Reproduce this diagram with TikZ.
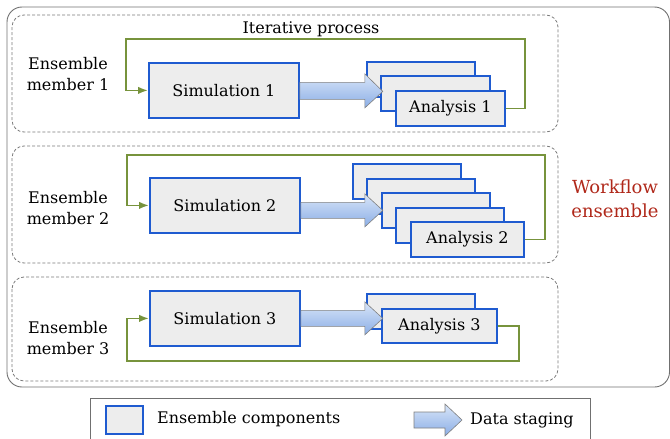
\documentclass[tikz,border=0pt]{standalone}
\usepackage{fontspec}
\setmainfont{DejaVu Serif}
\usetikzlibrary{shadows,arrows.meta}
\definecolor{boxblue}{HTML}{1F5BD0}
\definecolor{boxfill}{HTML}{EDEDED}
\definecolor{loopgreen}{HTML}{77933C}
\definecolor{wfred}{HTML}{B0281A}
\definecolor{framegray}{HTML}{707070}
\definecolor{dashgray}{HTML}{7A7A7A}
\definecolor{arrowtop}{HTML}{D8E5F8}
\definecolor{arrowbot}{HTML}{8BAEE6}
\begin{document}
\begin{tikzpicture}[x=1pt,y=-1pt,
  comp/.style={draw=boxblue, line width=1.8pt, fill=boxfill, inner sep=0pt,
    anchor=north west, font=\fontsize{16}{19}\selectfont,
    drop shadow={shadow xshift=1.2pt, shadow yshift=-1.5pt, opacity=0.3}},
  simbox/.style={comp, minimum width=150pt, minimum height=55pt},
  anabox/.style={comp, minimum width=108pt, minimum height=35pt},
  loopline/.style={draw=loopgreen, line width=1.7pt, -{Latex[length=10pt,width=7.5pt]}},
  dashbox/.style={draw=dashgray, line width=0.8pt, dash pattern=on 3pt off 2pt, rounded corners=12pt},
  lbl/.style={align=center, font=\fontsize{16}{21}\selectfont},
  stagearrow/.style={draw=gray, line width=0.6pt, top color=arrowtop, bottom color=arrowbot}
]
\useasboundingbox (0,0) rectangle (670,439);
% outer frame
\draw[framegray, line width=0.9pt, rounded corners=15pt] (7,7) rectangle (669.5,387);
% member frames
\draw[dashbox] (12,15) rectangle (558,132);
\draw[dashbox] (12,146) rectangle (558,263);
\draw[dashbox] (12,277) rectangle (558,381);

% labels
\node[lbl] (it) at (311,29) {Iterative process};
\node[lbl] (em1) at (68,74) {Ensemble\\member 1};
\node[lbl] (em2) at (68,208) {Ensemble\\member 2};
\node[lbl] (em3) at (68,338) {Ensemble\\member 3};
\node[align=center, text=wfred, font=\fontsize{18}{24}\selectfont] (wf) at (615,199) {Workflow\\ensemble};

% member 1
\node[simbox] (sim1) at (148,62) {Simulation 1};
\node[anabox] (a1a) at (366,61) {};
\node[anabox, minimum width=109pt] (a1b) at (380,75) {};
\node[anabox, minimum width=109pt] (ana1) at (395,90) {Analysis 1};
\coordinate (r1) at (525,39);
\coordinate (l1) at (126,39);
\draw[loopline] (ana1.east) -| (r1) -- (l1) |- (sim1.west);
\draw[stagearrow, shift={(sim1.east)}] (0,-8) -- (65,-8) -- (65,-16.5) -- (83,1) -- (65,17.5) -- (65,9) -- (0,9) -- cycle;

% member 2
\node[simbox] (sim2) at (149,177) {Simulation 2};
\node[anabox] (a2a) at (352,163) {};
\node[anabox] (a2b) at (366,178) {};
\node[anabox] (a2c) at (381,192) {};
\node[anabox] (a2d) at (395,207) {};
\node[anabox, minimum width=113pt] (ana2) at (410,221) {Analysis 2};
\coordinate (r2) at (545,155);
\coordinate (l2) at (127,155);
\draw[loopline] (ana2.east) -| (r2) -- (l2) |- (sim2.west);
\draw[stagearrow, shift={(sim2.east)}] (0,-3) -- (64,-3) -- (64,-11.5) -- (82,5) -- (64,21.5) -- (64,13) -- (0,13) -- cycle;

% member 3
\node[simbox] (sim3) at (149,290) {Simulation 3};
\node[anabox] (a3a) at (366,293) {};
\node[anabox, minimum width=115pt, minimum height=34pt] (ana3) at (381,308) {Analysis 3};
\coordinate (r3) at (519,361);
\coordinate (l3) at (127,361);
\draw[loopline] (ana3.east) -| (r3) -- (l3) |- (sim3.west);
\draw[stagearrow, shift={(sim3.east)}] (0,-8) -- (64,-8) -- (64,-16.5) -- (82,0) -- (64,16.5) -- (64,8) -- (0,8) -- cycle;

% legend
\draw[framegray, line width=0.9pt] (90,440) -- (90,398) -- (590,398) -- (590,440);
\node[comp, minimum width=37pt, minimum height=28pt] (legc) at (105,405) {};
\node[lbl, anchor=west, inner sep=0pt] (legct) at (157,419) {Ensemble components};
\coordinate (lega) at (414,420);
\draw[stagearrow, shift={(lega)}] (0,-8) -- (31,-8) -- (31,-16) -- (48,0) -- (31,16) -- (31,8) -- (0,8) -- cycle;
\node[lbl, anchor=west, inner sep=0pt] (legat) at (470,420) {Data staging};
\end{tikzpicture}
\end{document}
